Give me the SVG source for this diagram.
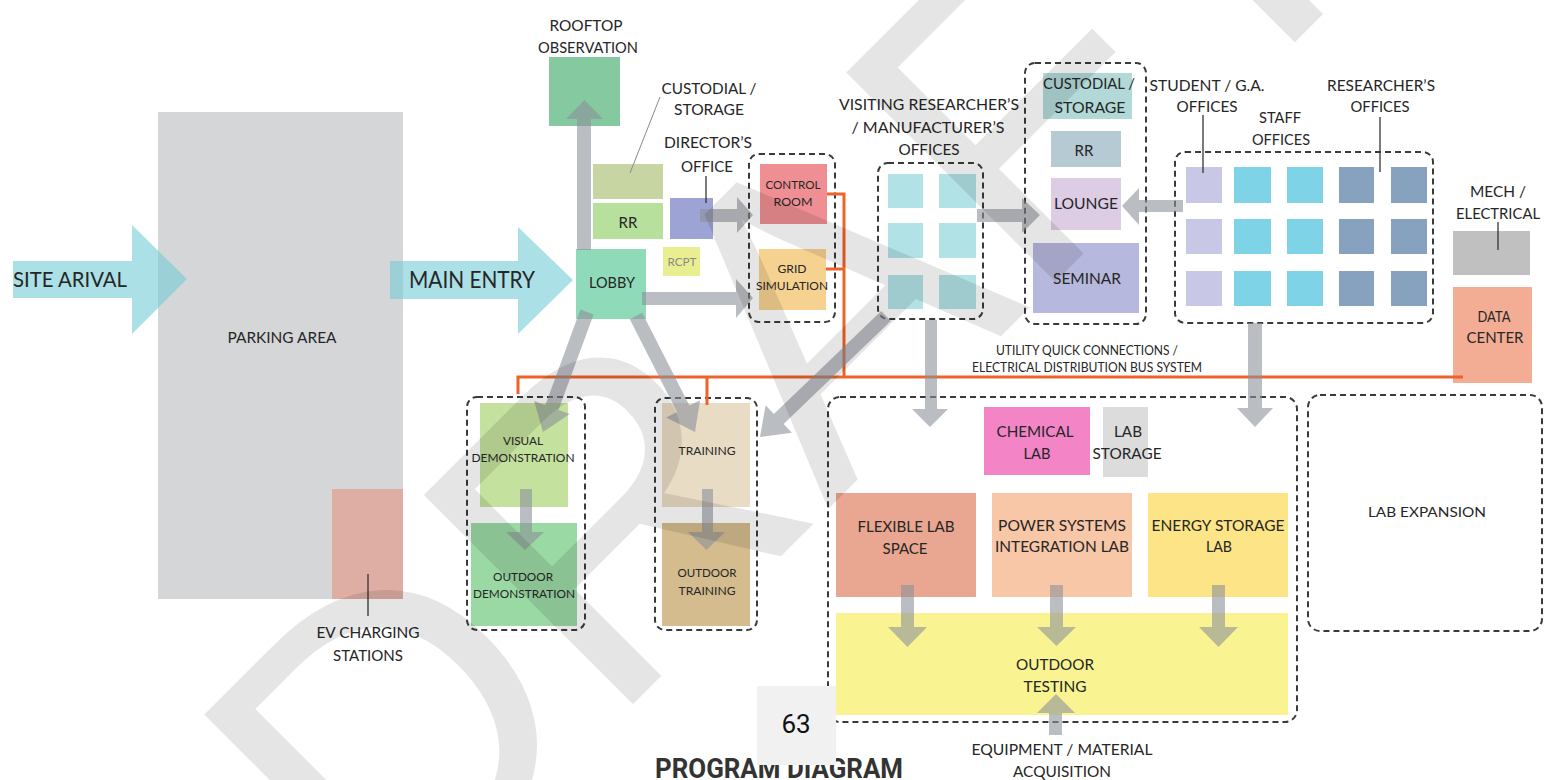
<svg xmlns="http://www.w3.org/2000/svg" width="1549" height="780" viewBox="0 0 1549 780">
<style>
.t{font-family:Lato,"Open Sans","Liberation Sans",sans-serif;fill:#262626;text-anchor:middle;font-size:15px}
.s{font-size:12px}
.m{font-size:14px}
.l{font-size:16px}
.dash{fill:none;stroke:#3a3a3a;stroke-width:2;stroke-dasharray:6 4}
.arr{fill:#8c9199;fill-opacity:0.6}
.cy{fill:#78cdd6;fill-opacity:0.62}
.bus{stroke:#ee6328;stroke-width:3;fill:none}
.lead{stroke:#333;stroke-width:1.3}
</style>
<rect width="1549" height="780" fill="#fff"/>

<g id="parking"><rect x="158" y="112" width="245" height="487" fill="#d5d6d8"/><text class="t l" x="282" y="343" textLength="109" lengthAdjust="spacingAndGlyphs">PARKING AREA</text></g>
<g id="ev-charging"><rect x="332" y="489" width="71" height="110" fill="#deaea4"/><line class="lead" x1="368" y1="574" x2="368" y2="616"/><text class="t l" x="368" y="638" textLength="103" lengthAdjust="spacingAndGlyphs">EV CHARGING</text><text class="t l" x="368" y="661" textLength="70" lengthAdjust="spacingAndGlyphs">STATIONS</text></g>

<g id="rooftop"><rect x="549" y="57" width="71" height="69" fill="#85c9a0"/><text class="t" x="586" y="31" textLength="73" lengthAdjust="spacingAndGlyphs">ROOFTOP</text><text class="t" x="588" y="53" textLength="100" lengthAdjust="spacingAndGlyphs">OBSERVATION</text></g>
<g id="custodial-1"><rect x="593" y="164" width="70" height="35" fill="#c6d5a1"/><line x1="660" y1="97" x2="630" y2="173" stroke="#8a8a8a" stroke-width="1"/><text class="t" x="709" y="94" textLength="95" lengthAdjust="spacingAndGlyphs">CUSTODIAL /</text><text class="t" x="709" y="115" textLength="70" lengthAdjust="spacingAndGlyphs">STORAGE</text></g>
<g id="rr-1"><rect x="593" y="203" width="70" height="36" fill="#b6e09c"/><text class="t" x="628" y="228">RR</text></g>
<g id="director"><rect x="670" y="198" width="43" height="41" fill="#9ea3d5"/><line class="lead" x1="706" y1="176" x2="706" y2="203"/><text class="t" x="708" y="148" textLength="88" lengthAdjust="spacingAndGlyphs">DIRECTOR’S</text><text class="t" x="707" y="172" textLength="52" lengthAdjust="spacingAndGlyphs">OFFICE</text></g>
<g id="rcpt"><rect x="663" y="247" width="37" height="29" fill="#e9ef90"/><text class="t" x="682" y="266" style="font-size:11px;fill:#8a8a8a" textLength="29" lengthAdjust="spacingAndGlyphs">RCPT</text></g>
<g id="lobby"><rect x="576" y="249" width="70" height="70" fill="#8fdab8"/><text class="t" x="612" y="288" textLength="46" lengthAdjust="spacingAndGlyphs">LOBBY</text></g>

<g id="control-grid"><rect class="dash" x="749" y="154" width="86" height="168" rx="10"/>
<g id="control-room"><rect x="760" y="164" width="67" height="60" fill="#ef8f93"/><text class="t s" x="793" y="189" textLength="55" lengthAdjust="spacingAndGlyphs">CONTROL</text><text class="t s" x="793" y="206" textLength="39" lengthAdjust="spacingAndGlyphs">ROOM</text></g>
<g id="grid-simulation"><rect x="759" y="249" width="67" height="61" fill="#f6d290"/><text class="t s" x="792" y="273" textLength="29" lengthAdjust="spacingAndGlyphs">GRID</text><text class="t s" x="792" y="290" textLength="72" lengthAdjust="spacingAndGlyphs">SIMULATION</text></g></g>

<g id="visiting-offices"><rect class="dash" x="878" y="163" width="105" height="156" rx="10"/>
<g fill="#b1e3e6"><rect x="888" y="174" width="35" height="34"/><rect x="939" y="174" width="37" height="34"/><rect x="888" y="223" width="35" height="35"/><rect x="939" y="223" width="37" height="35"/><rect x="888" y="275" width="35" height="34"/><rect x="939" y="275" width="37" height="34"/></g>
<text class="t" x="929" y="110" textLength="180" lengthAdjust="spacingAndGlyphs">VISITING RESEARCHER’S</text><text class="t" x="928" y="133" textLength="153" lengthAdjust="spacingAndGlyphs">/ MANUFACTURER’S</text><text class="t" x="929" y="155" textLength="61" lengthAdjust="spacingAndGlyphs">OFFICES</text></g>

<g id="amenities"><rect class="dash" x="1025" y="63" width="121" height="261" rx="10"/>
<g id="custodial-2"><rect x="1043" y="73" width="89" height="46" fill="#b2d8d8"/><text class="t" x="1089" y="89" textLength="92" lengthAdjust="spacingAndGlyphs">CUSTODIAL /</text><text class="t" x="1090" y="113" textLength="71" lengthAdjust="spacingAndGlyphs">STORAGE</text></g>
<g id="rr-2"><rect x="1051" y="131" width="70" height="36" fill="#b5cad3"/><text class="t" x="1084" y="156">RR</text></g>
<g id="lounge"><rect x="1051" y="178" width="70" height="52" fill="#dccce4"/><text class="t" x="1086" y="209" textLength="64" lengthAdjust="spacingAndGlyphs">LOUNGE</text></g>
<g id="seminar"><rect x="1033" y="243" width="106" height="70" fill="#b7b8dd"/><text class="t" x="1087" y="284" textLength="68" lengthAdjust="spacingAndGlyphs">SEMINAR</text></g></g>

<g id="offices"><rect class="dash" x="1175" y="152" width="258" height="171" rx="10"/>
<g fill="#c8c8e6"><rect x="1186" y="167" width="36" height="36"/><rect x="1186" y="219" width="36" height="35"/><rect x="1186" y="271" width="36" height="35"/></g>
<g fill="#7fd3e7"><rect x="1234" y="167" width="37" height="36"/><rect x="1234" y="219" width="37" height="35"/><rect x="1234" y="271" width="37" height="35"/><rect x="1287" y="167" width="36" height="36"/><rect x="1287" y="219" width="36" height="35"/><rect x="1287" y="271" width="36" height="35"/></g>
<g fill="#86a2bf"><rect x="1339" y="167" width="35" height="36"/><rect x="1339" y="219" width="35" height="35"/><rect x="1339" y="271" width="35" height="35"/><rect x="1391" y="167" width="36" height="36"/><rect x="1391" y="219" width="36" height="35"/><rect x="1391" y="271" width="36" height="35"/></g>
<line class="lead" x1="1203" y1="115" x2="1203" y2="173"/><line class="lead" x1="1380" y1="117" x2="1380" y2="172"/>
<text class="t" x="1207" y="91" textLength="115" lengthAdjust="spacingAndGlyphs">STUDENT / G.A.</text><text class="t" x="1207" y="112" textLength="61" lengthAdjust="spacingAndGlyphs">OFFICES</text>
<text class="t" x="1280" y="123" textLength="42" lengthAdjust="spacingAndGlyphs">STAFF</text><text class="t" x="1281" y="145" textLength="58" lengthAdjust="spacingAndGlyphs">OFFICES</text>
<text class="t" x="1381" y="91" textLength="108" lengthAdjust="spacingAndGlyphs">RESEARCHER’S</text><text class="t" x="1380" y="112" textLength="59" lengthAdjust="spacingAndGlyphs">OFFICES</text></g>

<g id="mech"><rect x="1453" y="231" width="77" height="44" fill="#c0c0c0"/><line class="lead" x1="1498" y1="222" x2="1498" y2="250"/><text class="t" x="1498" y="197" textLength="56" lengthAdjust="spacingAndGlyphs">MECH /</text><text class="t" x="1498" y="219" textLength="84" lengthAdjust="spacingAndGlyphs">ELECTRICAL</text></g>
<g id="data-center"><rect x="1453" y="287" width="79" height="96" fill="#f4ad95"/><text class="t" x="1494" y="322" textLength="33" lengthAdjust="spacingAndGlyphs">DATA</text><text class="t" x="1495" y="343" textLength="57" lengthAdjust="spacingAndGlyphs">CENTER</text></g>

<g id="demonstration"><rect class="dash" x="467" y="397" width="118" height="233" rx="10"/>
<g id="visual-demo"><rect x="480" y="403" width="88" height="104" fill="#c4e19d"/><text class="t s" x="523" y="445" textLength="40" lengthAdjust="spacingAndGlyphs">VISUAL</text><text class="t s" x="523" y="462" textLength="103" lengthAdjust="spacingAndGlyphs">DEMONSTRATION</text></g>
<g id="outdoor-demo"><rect x="471" y="523" width="106" height="103" fill="#9ad9a4"/><text class="t s" x="523" y="581" textLength="60" lengthAdjust="spacingAndGlyphs">OUTDOOR</text><text class="t s" x="524" y="598" textLength="102" lengthAdjust="spacingAndGlyphs">DEMONSTRATION</text></g></g>

<g id="training-group"><rect class="dash" x="655" y="398" width="102" height="232" rx="10"/>
<g id="training"><rect x="662" y="403" width="88" height="104" fill="#e9dcc5"/><text class="t s" x="707" y="455" textLength="57" lengthAdjust="spacingAndGlyphs">TRAINING</text></g>
<g id="outdoor-training"><rect x="662" y="523" width="88" height="103" fill="#d4bc8e"/><text class="t s" x="707" y="577" textLength="59" lengthAdjust="spacingAndGlyphs">OUTDOOR</text><text class="t s" x="707" y="595" textLength="57" lengthAdjust="spacingAndGlyphs">TRAINING</text></g></g>

<g id="labs"><rect class="dash" x="828" y="397" width="469" height="325" rx="12"/>
<g id="chemical-lab"><rect x="984" y="407" width="106" height="68" fill="#f385c7"/><text class="t l" x="1035" y="437" textLength="77" lengthAdjust="spacingAndGlyphs">CHEMICAL</text><text class="t l" x="1037" y="459" textLength="27" lengthAdjust="spacingAndGlyphs">LAB</text></g>
<g id="lab-storage"><rect x="1103" y="407" width="45" height="70" fill="#dcdcdc"/><text class="t l" x="1128" y="437" textLength="28" lengthAdjust="spacingAndGlyphs">LAB</text><text class="t l" x="1127" y="459" textLength="69" lengthAdjust="spacingAndGlyphs">STORAGE</text></g>
<g id="flexible-lab"><rect x="836" y="493" width="140" height="104" fill="#e9a690"/><text class="t l" x="906" y="532" textLength="97" lengthAdjust="spacingAndGlyphs">FLEXIBLE LAB</text><text class="t l" x="905" y="554" textLength="45" lengthAdjust="spacingAndGlyphs">SPACE</text></g>
<g id="power-lab"><rect x="992" y="493" width="140" height="104" fill="#f8c7a7"/><text class="t l" x="1062" y="531" textLength="128" lengthAdjust="spacingAndGlyphs">POWER SYSTEMS</text><text class="t l" x="1062" y="552" textLength="134" lengthAdjust="spacingAndGlyphs">INTEGRATION LAB</text></g>
<g id="energy-lab"><rect x="1148" y="493" width="140" height="104" fill="#fde487"/><text class="t l" x="1218" y="531" textLength="133" lengthAdjust="spacingAndGlyphs">ENERGY STORAGE</text><text class="t l" x="1219" y="552" textLength="26" lengthAdjust="spacingAndGlyphs">LAB</text></g>
<g id="outdoor-testing"><rect x="836" y="613" width="452" height="102" fill="#f9f491"/><text class="t l" x="1055" y="670" textLength="78" lengthAdjust="spacingAndGlyphs">OUTDOOR</text><text class="t l" x="1055" y="692" textLength="63" lengthAdjust="spacingAndGlyphs">TESTING</text></g></g>

<g id="lab-expansion"><rect class="dash" x="1308" y="395" width="234" height="236" rx="12"/><text class="t m" x="1427" y="517" textLength="118" lengthAdjust="spacingAndGlyphs">LAB EXPANSION</text></g>

<g id="equipment"><text class="t" x="1062" y="755" textLength="181" lengthAdjust="spacingAndGlyphs">EQUIPMENT / MATERIAL</text><text class="t" x="1062" y="777" textLength="98" lengthAdjust="spacingAndGlyphs">ACQUISITION</text></g>
<g id="utility-label"><text class="t m" x="1087" y="355" textLength="182" lengthAdjust="spacingAndGlyphs">UTILITY QUICK CONNECTIONS /</text><text class="t m" x="1087" y="372" textLength="230" lengthAdjust="spacingAndGlyphs">ELECTRICAL DISTRIBUTION BUS SYSTEM</text></g>

<g id="connectors">
<g id="bus">
<polyline class="bus" points="827,194 844,194 844,377"/>
<line class="bus" x1="826" y1="269" x2="844" y2="269"/>
<polyline class="bus" points="518,394 518,377 1463,377"/>
<line class="bus" x1="707" y1="377" x2="707" y2="405"/>
</g>
<polygon class="cy" points="13,261 132,261 132,225 187,279 132,334 132,298 13,298"/>
<polygon class="cy" points="390,261 518,261 518,227 573,280 518,334 518,299 390,299"/>
<polygon class="arr" points="577,250 577,119 566,119 584.5,100 603,119 591,119 591,250"/>
<polygon class="arr" points="700,209 737,209 737,197 753,215 737,233 737,222 700,222"/>
<polygon class="arr" points="642,292 736,292 736,279 753,298 736,318 736,305 642,305"/>
<polygon class="arr" points="977,209 1022,209 1022,198 1040,215 1022,233 1022,222 977,222"/>
<polygon class="arr" points="1183,200 1139,200 1139,188 1122,206 1139,225 1139,212 1183,212"/>
<polygon class="arr" points="925,320 925,409 912,409 930,427 948,409 937,409 937,320"/>
<polygon class="arr" points="1248,323 1248,408 1237,408 1255,427 1273,408 1262,408 1262,323"/>
<polygon class="arr" points="520,489 520,532 506,532 525,550 544,532 532,532 532,489"/>
<polygon class="arr" points="702,489 702,532 688,532 706.5,550 725,532 713,532 713,489"/>
<polygon class="arr" points="901,585 901,627 888,627 907.5,647 927,627 914,627 914,585"/>
<polygon class="arr" points="1050,585 1050,627 1037,627 1056.5,646 1076,627 1063,627 1063,585"/>
<polygon class="arr" points="1212,585 1212,627 1199,627 1218.5,647 1238,627 1225,627 1225,585"/>
<polygon class="arr" points="1049,735 1049,713 1037,713 1056,694 1075,713 1062,713 1062,735"/>
<polygon class="arr" points="580.4,309.6 545.3,405.2 534.1,401.1 543,432 569.7,414.1 558.5,410 593.6,314.4"/>
<polygon class="arr" points="629.8,319.2 677,412 666.3,417.4 695,432 700.1,400.2 689.4,405.6 642.2,312.8"/>
<polygon class="arr" points="881.2,311 773.9,413.9 765.6,405.3 760,437 791.9,432.7 783.6,424 890.8,321"/>
</g>

<g id="cyan-labels">
<text class="t" x="13" y="287" style="text-anchor:start;font-size:22px" textLength="114" lengthAdjust="spacingAndGlyphs">SITE ARIVAL</text>
<text class="t" x="409" y="288" style="text-anchor:start;font-size:23px" textLength="126" lengthAdjust="spacingAndGlyphs">MAIN ENTRY</text>
</g>

<g id="watermark"><text x="0" y="0" transform="translate(388.5,948.7) rotate(-45)" style="font-family:'Liberation Sans',Arial,sans-serif;font-size:430px" fill="#000" fill-opacity="0.1">DRAFT</text></g>

<g id="title"><text x="655" y="778" style="font-family:Roboto,'Liberation Sans',sans-serif;font-weight:bold;font-size:28px" fill="#333" textLength="248" lengthAdjust="spacingAndGlyphs">PROGRAM DIAGRAM</text></g>
<g id="page-number"><rect x="757" y="686" width="79" height="79" fill="#f1f1f1"/><text x="796" y="733" style="font-family:Roboto,'Liberation Sans',sans-serif;font-size:26px;text-anchor:middle" fill="#111">63</text></g>
</svg>
